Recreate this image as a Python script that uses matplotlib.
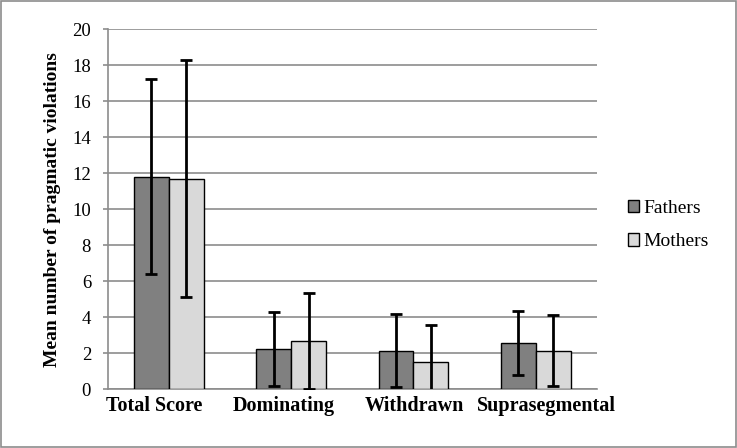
import matplotlib
matplotlib.use("Agg")
import matplotlib.pyplot as plt
import matplotlib.transforms as mtransforms
import numpy as np
from matplotlib.patches import Rectangle

categories = ["Total Score", "Dominating", "Withdrawn", "Suprasegmental"]
fathers = [11.81, 2.24, 2.15, 2.57]
mothers = [11.70, 2.68, 1.54, 2.15]
fathers_sd = [5.42, 2.03, 2.03, 1.77]
mothers_sd = [6.59, 2.65, 2.01, 1.99]
series = ["Fathers", "Mothers"]
yticks = [0, 2, 4, 6, 8, 10, 12, 14, 16, 18, 20]

plt.rcParams['font.family'] = ['Liberation Serif', 'DejaVu Serif']
serif = ['Liberation Serif', 'DejaVu Serif']

fig = plt.figure(figsize=(7.37, 4.48), dpi=100)
ax = fig.add_axes([107.5/737, 1-389.3/448, (597-107.5)/737, (389.3-29.3)/448])

x = np.arange(len(categories))
w = 0.285
cols = ["#808080", "#d9d9d9"]
for i, (vals, sds) in enumerate([(fathers, fathers_sd), (mothers, mothers_sd)]):
    pos = x + (i - 0.5) * w
    ax.bar(pos, vals, width=w, color=cols[i], edgecolor="black", linewidth=1.0,
           label=series[i], zorder=3)
    ax.errorbar(pos, vals, yerr=sds, fmt="none", ecolor="black", elinewidth=2,
                capsize=4.5, capthick=2, zorder=4)

ax.set_xlim(-0.5, len(categories) - 0.5)
ax.set_ylim(0, 20)
ax.set_yticks(yticks)
ax.set_yticklabels([str(t) for t in yticks], fontsize=13.5, family=serif)
ax.set_xticks(x)
ax.set_xticklabels([])
# Excel-like label placement shifts (pixels)
shifts = [-15, -7, 1, 11]
for xi, (cat, dx) in enumerate(zip(categories, shifts)):
    tr = ax.get_xaxis_transform() + mtransforms.ScaledTranslation(dx / 100, -7 / 100, fig.dpi_scale_trans)
    ax.text(xi, 0, cat, transform=tr, ha="center", va="top", fontsize=14.5,
            fontweight="bold", family=serif)
ax.tick_params(axis="x", length=0, pad=7)
ax.tick_params(axis="y", length=3.8, color="#8c8c8c", width=1.2, pad=8)
ax.grid(axis="y", color="#8c8c8c", linewidth=1.2, zorder=0)
ax.set_axisbelow(True)
for s in ["top", "right"]:
    ax.spines[s].set_visible(False)
for s in ["left", "bottom"]:
    ax.spines[s].set_color("#8c8c8c")
    ax.spines[s].set_linewidth(1.2)
ax.set_ylabel("Mean number of pragmatic violations", fontsize=14, fontweight="bold",
              family=serif, labelpad=8)

ax.legend(loc="center left", bbox_to_anchor=(610/737, 1 - 225/448), bbox_transform=fig.transFigure,
          frameon=False, prop={'family': serif, 'size': 14}, handlelength=0.6, handleheight=0.6,
          handletextpad=0.22, labelspacing=0.85)

fig.patches.append(Rectangle((1/737, 1/448), 735/737, 446/448, transform=fig.transFigure,
                             fill=False, edgecolor="#8c8c8c", linewidth=1.2))

fig.savefig("out.png", dpi=100)
